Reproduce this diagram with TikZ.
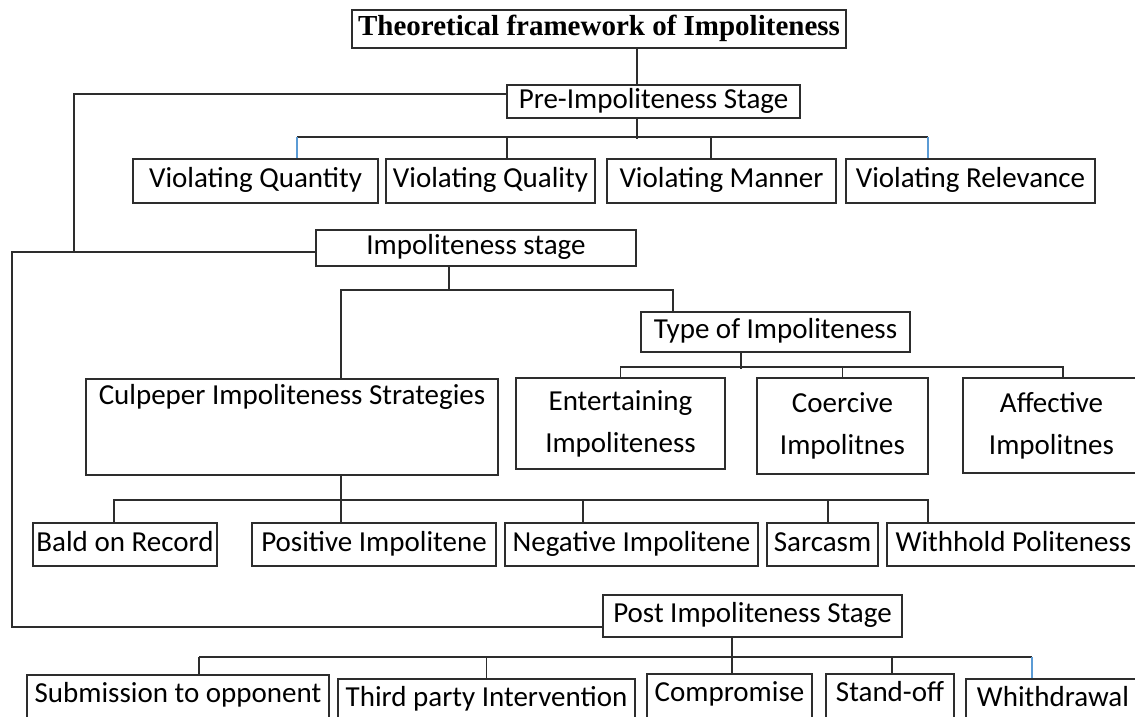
\documentclass[tikz,border=0pt]{standalone}
\usepackage{fontspec}
\setmainfont{Carlito}
\newfontfamily\titlefont{Liberation Serif}
\definecolor{linec}{RGB}{45,45,45}
\definecolor{stubc}{RGB}{91,155,213}

\begin{document}
\begin{tikzpicture}[x=1pt,y=-1pt,
    box/.style={draw=linec, line width=1.6pt, inner xsep=1pt, inner ysep=0pt, text height=20pt, text depth=7pt, font=\fontsize{29}{42}\selectfont},
    tallbox/.style={draw=linec, line width=1.6pt, align=center, inner sep=0pt, font=\fontsize{29}{42}\selectfont},
    lowbox/.style={box, anchor=north, inner ysep=8pt, text depth=40pt},
    conn/.style={draw=linec, line width=1.6pt},
    blueconn/.style={draw=stubc, line width=1.6pt}]
    \useasboundingbox (0,0) rectangle (1135,716);
    \clip (0,0) rectangle (1135,716);
    \fill[white] (0,0) rectangle (1135,716);

    \node[box, font=\titlefont\bfseries\fontsize{29}{34}\selectfont, minimum width=494pt, minimum height=38pt] (title) at (599,29) {Theoretical framework of Impoliteness};
    \node[box, minimum width=293pt, minimum height=33pt] (pre) at (653.5,101.5) {Pre-Impoliteness Stage};
    \node[box, minimum width=245pt, minimum height=44pt] (vqn) at (255.5,181) {Violating Quantity};
    \node[box, minimum width=209pt, minimum height=44pt] (vql) at (490.5,181) {Violating Quality};
    \node[box, minimum width=229pt, minimum height=44pt] (vmn) at (721.5,181) {Violating Manner};
    \node[box, minimum width=249pt, minimum height=44pt] (vrl) at (970.5,181) {Violating Relevance};
    \node[box, minimum width=320pt, minimum height=36pt] (imp) at (476,248) {Impoliteness stage};
    \node[box, minimum width=269pt, minimum height=40pt] (typ) at (775.5,332) {Type of Impoliteness};
    \node[box, anchor=north, minimum width=412pt, inner ysep=6pt, text depth=64pt] (cul) at (292,378) {Culpeper Impoliteness Strategies};
    \node[tallbox, minimum width=209pt, minimum height=91pt] (ent) at (620.5,423.5) {Entertaining\\Impoliteness};
    \node[tallbox, minimum width=171pt, minimum height=96pt] (coe) at (842.5,426) {Coercive\\Impolitnes};
    \node[tallbox, minimum width=177pt, minimum height=95pt] (aff) at (1051.5,425.5) {Affective\\Impolitnes};
    \node[box, minimum width=184pt, minimum height=43pt] (bald) at (125,544.5) {Bald on Record};
    \node[box, minimum width=244pt, minimum height=43pt] (pos) at (374,544.5) {Positive Impolitene};
    \node[box, minimum width=253pt, minimum height=43pt] (neg) at (631.5,544.5) {Negative Impolitene};
    \node[box, minimum width=111pt, minimum height=43pt] (sar) at (822.5,544.5) {Sarcasm};
    \node[box, minimum width=253pt, minimum height=43pt] (wit) at (1013.5,544.5) {Withhold Politeness};
    \node[box, minimum width=299pt, minimum height=42pt] (post) at (752.5,616) {Post Impoliteness Stage};
    \node[lowbox, minimum width=302pt] (sub) at (178,674) {Submission to opponent};
    \node[lowbox, minimum width=297pt] (thi) at (486.5,678) {Third party Intervention};
    \node[lowbox, minimum width=165pt] (com) at (729.5,673) {Compromise};
    \node[lowbox, minimum width=128pt] (sta) at (890,673) {Stand-off};
    \node[lowbox, minimum width=174pt] (whi) at (1053,678) {Whithdrawal};

    \draw[conn] ([xshift=38pt]title.south) -- ([xshift=-16.5pt]pre.north);
    \draw[conn] ([xshift=-16.5pt]pre.south) -- ++(0,20);
    \draw[conn] ([xshift=41.5pt,yshift=21pt]vqn.north) -- ([xshift=-42.5pt,yshift=21pt]vrl.north);
    \draw[conn] ([xshift=16.5pt]vql.north) -- ++(0,-21);
    \draw[conn] ([xshift=-10.5pt]vmn.north) -- ++(0,-21);
    \draw[blueconn] ([xshift=41.5pt]vqn.north) -- ++(0,-21);
    \draw[blueconn] ([xshift=-42.5pt]vrl.north) -- ++(0,-21);

    \draw[conn] ([yshift=7.5pt]pre.west) -- ++(-432,0) |- ([yshift=-4pt]imp.west);
    \draw[conn] ([yshift=-4pt]imp.west) -- ++(-303,0) |- ([yshift=-11pt]post.west);

    \draw[conn] ([xshift=-27pt]imp.south) -- ++(0,24);
    \draw[conn] ([xshift=49pt]cul.north) -- ++(0,-88) -| ([xshift=-102.5pt]typ.north);

    \draw[conn] ([xshift=-34.5pt]typ.south) -- ++(0,16);
    \draw[conn] (ent.north) -- ++(0,-10) -| ([xshift=11.5pt]aff.north);
    \draw[conn] (coe.north) -- ++(0,-10);

    \draw[conn] ([xshift=49pt]cul.south) -- ++(0,27);
    \draw[conn] ([xshift=-11pt]bald.north) -- ++(0,-22) -| ([xshift=-85.5pt]wit.north);
    \draw[conn] ([xshift=-33pt]pos.north) -- ++(0,-22);
    \draw[conn] ([xshift=-48.5pt]neg.north) -- ++(0,-22);
    \draw[conn] ([xshift=5.5pt]sar.north) -- ++(0,-22);

    \draw[conn] ([xshift=-20.5pt]post.south) -- ++(0,20);
    \draw[conn] ([xshift=21pt,yshift=17pt]sub.north) -- ([xshift=-21pt,yshift=21pt]whi.north);
    \draw[conn] ([xshift=21pt]sub.north) -- ++(0,-17);
    \draw[conn] (thi.north) -- ++(0,-21);
    \draw[conn] ([xshift=2.5pt]com.north) -- ++(0,-16);
    \draw[conn] ([xshift=2pt]sta.north) -- ++(0,-16);
    \draw[blueconn] ([xshift=-21pt]whi.north) -- ++(0,-21);
\end{tikzpicture}
\end{document}
